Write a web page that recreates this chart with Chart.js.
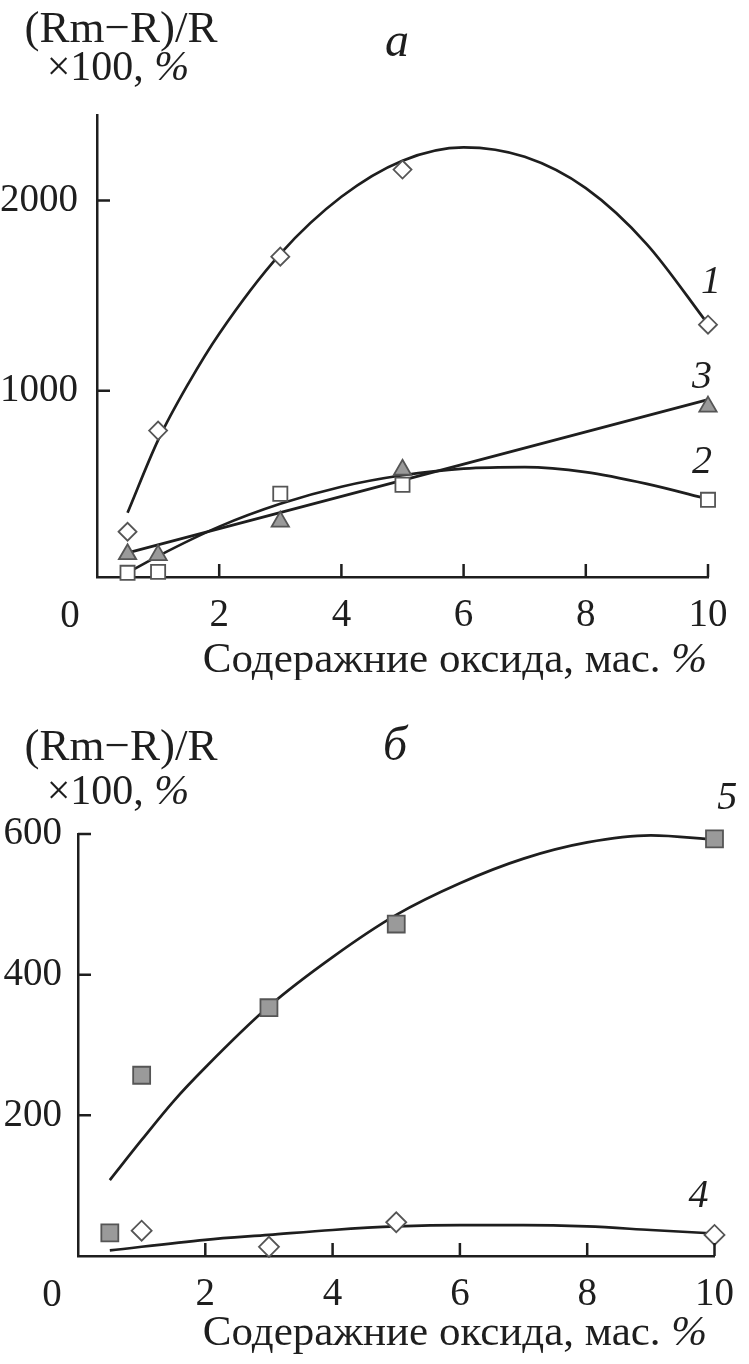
<!DOCTYPE html>
<html>
<head>
<meta charset="utf-8">
<script src="https://cdn.jsdelivr.net/npm/chart.js@4"></script>
<style>
body{margin:0;background:#fff}
#wrap{position:relative;width:749px;height:1364px}
.box{position:absolute;left:0;width:749px}
</style>
</head>
<body>
<div id="wrap">
<div class="box" style="top:0;height:680px"><canvas id="chartA"></canvas></div>
<div class="box" style="top:680px;height:684px"><canvas id="chartB"></canvas></div>
</div>
<script>

// ticks
const xTicks=[0,2,4,6,8,10]
const yTicksA=[1000,2000]
const yTicksB=[200,400,600]

// panel a: measured points
const ptsX=[0.5,1,3,5,10]
const s1=[258,790,1705,2163,1347]
const s2=[42,47,458,505,426]
const s3=[140,135,311,584,916]

// panel a: fitted curves
const fit1X=[0.5,1,1.5,2,3,4,5,6,7,8,9,10]
const fit1=[358,740,1040,1300,1720,2020,2210,2280,2230,2065,1770,1350]
const fit2X=[0.5,1,2,3,4,5,6,7,8,9,10]
const fit2=[42,130,285,405,495,555,590,598,572,510,430]
const fit3X=[0.5,10]
const fit3=[147,953]

// panel б
const s4X=[1,3,5,10]
const s4=[36,13,48,30]
const s5X=[0.5,1,3,5,10]
const s5=[33,257,353,472,593]
const fit4X=[0.5,2,3,4,5,6,7,8,9,10]
const fit4=[8,23,30,37,42,44,44,42,37,32]
const fit5X=[0.5,1,1.5,2,3,4,5,6,7,8,9,10]
const fit5=[108,165,220,268,355,425,485,530,565,588,598,592]

const FONT='"Liberation Serif", "Times New Roman", serif'
const INK='#1e1e1e'

function pts(xs,ys){
return xs.map((x,i)=>({x:x,y:ys[i]}))
}

function marks(xs,ys,style,r,fill){
return {data:pts(xs,ys),showLine:false,clip:false,pointStyle:style,pointRadius:r,pointHoverRadius:r,
pointBackgroundColor:fill,pointBorderColor:'#555',pointBorderWidth:1.8}
}

function curve(xs,ys){
return {data:pts(xs,ys),showLine:true,pointRadius:0,borderColor:INK,borderWidth:2.7,
cubicInterpolationMode:'monotone',fill:false,clip:false}
}

function mixed(ctx,parts,cx,y){
let w=0
parts.forEach(p=>{ctx.font=p[1];w+=ctx.measureText(p[0]).width})
let x=cx-w/2
parts.forEach(p=>{ctx.font=p[1];ctx.fillText(p[0],x,y);x+=ctx.measureText(p[0]).width})
}

function makeChart(id,cfg){

const deco={id:'deco',afterDraw(c){
let ctx=c.ctx,xs=c.scales.x,ys=c.scales.y,a=c.chartArea
ctx.save()
ctx.strokeStyle=INK
ctx.lineWidth=2.5
ctx.beginPath()
xs.ticks.forEach(t=>{
if(t.value===0) return
let p=xs.getPixelForValue(t.value)
ctx.moveTo(p,a.bottom);ctx.lineTo(p,a.bottom-13)
})
ys.ticks.forEach(t=>{
let p=ys.getPixelForValue(t.value)
ctx.moveTo(a.left,p);ctx.lineTo(a.left+13,p)
})
ctx.stroke()

ctx.fillStyle=INK
ctx.textAlign='left'
ctx.textBaseline='alphabetic'
let f='42px '+FONT, fi='italic 42px '+FONT
mixed(ctx,[['(Rm\u2212R)/R','45px '+FONT]],121,cfg.t1)
mixed(ctx,[['\u00d7100, ',f],['%',fi]],118,cfg.t2)
mixed(ctx,[[cfg.panel,'italic 48px '+FONT]],cfg.panelX,cfg.panelY)
mixed(ctx,[['Содеражние оксида, мас. ','43px '+FONT],['%','italic 43px '+FONT]],455,cfg.xt)
mixed(ctx,[['0','39px '+FONT]],cfg.zeroX,cfg.zeroY)

ctx.textAlign='center'
ctx.textBaseline='middle'
ctx.font='italic 40px '+FONT
cfg.labels.forEach(l=>{
ctx.fillText(l[0],xs.getPixelForValue(l[1]),ys.getPixelForValue(l[2]))
})
ctx.restore()
}}

return new Chart(document.getElementById(id),{
type:'scatter',
data:{datasets:cfg.datasets},
options:{
responsive:true,
maintainAspectRatio:false,
animation:false,
layout:{padding:{left:0,right:cfg.padR,top:cfg.padT,bottom:0}},
plugins:{legend:{display:false},tooltip:{enabled:false}},
scales:{
x:{type:'linear',min:0,max:10,
afterBuildTicks:s=>{s.ticks=xTicks.map(v=>({value:v}))},
afterFit:s=>{s.height=cfg.xH},
grid:{display:false,drawTicks:false},
border:{display:true,color:INK,width:2.5},
ticks:{color:INK,font:{family:FONT,size:39},padding:cfg.xPad,maxRotation:0,autoSkip:false,
callback:v=>v===0?'':String(v)}
},
y:{type:'linear',min:cfg.yMin,max:cfg.yMax,
afterBuildTicks:s=>{s.ticks=cfg.yTicks.map(v=>({value:v}))},
afterFit:s=>{s.width=cfg.yW},
grid:{display:false,drawTicks:false},
border:{display:true,color:INK,width:2.5},
ticks:{color:INK,font:{family:FONT,size:39},padding:cfg.yPad,autoSkip:false,
callback:v=>String(v)}
}
}
},
plugins:[deco]
})

}

makeChart('chartA',{
datasets:[
marks(ptsX,s1,'rectRot',9,'#fff'),
marks(ptsX,s2,'rect',10,'#fff'),
marks(ptsX,s3,'triangle',10,'#9a9a9a'),
curve(fit1X,fit1),
curve(fit2X,fit2),
curve(fit3X,fit3)
],
yMin:20,yMax:2450,yTicks:yTicksA,
padR:41,padT:115,xH:103,yW:97,xPad:15,yPad:19,
t1:42,t2:80,panel:'a',panelX:397,panelY:56,xt:672,zeroX:70,zeroY:627,
labels:[['1',10.05,1570],['3',9.9,1070],['2',9.9,620]]
})

makeChart('chartB',{
datasets:[
marks(s5X,s5,'rect',12,'#9a9a9a'),
marks(s4X,s4,'rectRot',10,'#fff'),
curve(fit5X,fit5),
curve(fit4X,fit4)
],
yMin:0,yMax:600,yTicks:yTicksB,
padR:21,padT:154,xH:108,yW:78,xPad:15,yPad:16,
t1:80,t2:124,panel:'б',panelX:395,panelY:80,xt:665,zeroX:52,zeroY:626,
labels:[['5',10.2,650],['4',9.75,85]]
})

</script>
</body>
</html>
